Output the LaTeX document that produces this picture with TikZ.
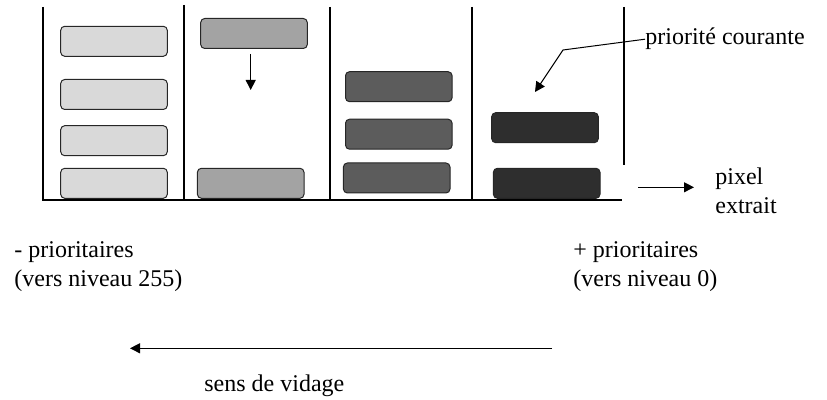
\documentclass[tikz,border=0pt]{standalone}
\usepackage{fontspec}
\setmainfont{Liberation Serif}
\usetikzlibrary{arrows.meta}
\definecolor{levelA}{gray}{0.85}
\definecolor{levelB}{gray}{0.64}
\definecolor{levelC}{gray}{0.36}
\definecolor{levelD}{gray}{0.18}
\newcommand{\twolines}[2]{\begin{tabular}[t]{@{}l@{}}#1\\#2\end{tabular}}
\begin{document}
\begin{tikzpicture}[x=0.5pt,y=-0.5pt,
  wall/.style={line width=1pt},
  slab/.style={draw=black!85, line width=0.5pt, rounded corners=2pt,
    minimum width=53.3pt, minimum height=15pt, inner sep=0pt},
  slabA/.style={slab, fill=levelA},
  slabB/.style={slab, fill=levelB},
  slabC/.style={slab, fill=levelC},
  slabD/.style={slab, fill=levelD},
  ptr/.style={-{Triangle[length=5pt,width=5pt]}, line width=0.5pt},
  lbl/.style={font=\fontsize{12}{14.3}\selectfont, inner sep=0pt}]
\useasboundingbox (0,0) rectangle (827,400);

% queue walls and floor
\draw[wall] (42.7,7) -- (42.7,200);
\draw[wall] (184,5) -- (184,200);
\draw[wall] (330,7) -- (330,200);
\draw[wall] (471.7,7) -- (471.7,200);
\draw[wall] (624.3,7) -- (624.3,165);
\draw[wall] (42,200) -- (622,200);

% level 255 side queue
\node[slabA] (a1) at (114,41.3) {};
\node[slabA] (a2) at (114,94.5) {};
\node[slabA] (a3) at (114,140.7) {};
\node[slabA] (a4) at (114,183.3) {};

% second queue, one pixel falling down
\node[slabB] (b1) at (254,33.5) {};
\node[slabB] (b2) at (250.7,183.3) {};
\coordinate (dropS) at (250.7,54);
\coordinate (dropE) at (250.7,90);
\draw[ptr] (dropS) -- (dropE);

% third queue
\node[slabC] (c1) at (398.8,86.7) {};
\node[slabC] (c2) at (398.8,134.2) {};
\node[slabC] (c3) at (396.7,178) {};

% current priority queue
\node[slabD] (d1) at (545,127.7) {};
\node[slabD] (d2) at (546.7,183.3) {};

% labels
\node[lbl, anchor=base west] (prio) at (645,45) {priorité courante};
\coordinate (bend) at (563,50);
\coordinate (prioTip) at (535,92);
\draw[ptr] (prio.west) -- (bend) -- (prioTip);

\node[lbl, anchor=base west] (pix) at (715,185) {\twolines{pixel}{extrait}};
\coordinate (pixS) at (638,187.3);
\coordinate (pixE) at (694,187.3);
\draw[ptr] (pixS) -- (pixE);

\node[lbl, anchor=base west] (lowp) at (14,258) {\twolines{- prioritaires}{(vers niveau 255)}};
\node[lbl, anchor=base west] (highp) at (573,258) {\twolines{+ prioritaires}{(vers niveau 0)}};

\coordinate (vidS) at (552,348.3);
\coordinate (vidE) at (130,348.3);
\draw[ptr] (vidS) -- (vidE);
\node[lbl, anchor=base west] (sens) at (204,392) {sens de vidage};
\end{tikzpicture}
\end{document}
